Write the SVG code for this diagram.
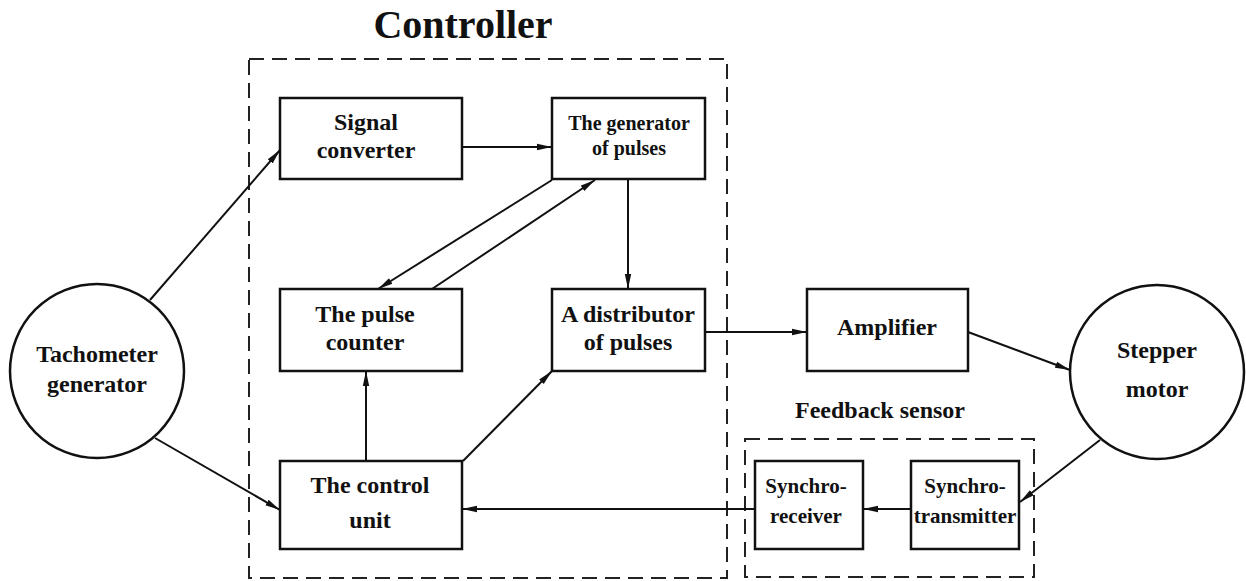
<svg xmlns="http://www.w3.org/2000/svg" width="1246" height="581" viewBox="0 0 1246 581">
<defs>
<style>
.box{fill:#fff;stroke:#111;stroke-width:2.5}
.dash{fill:none;stroke:#222;stroke-width:2;stroke-dasharray:15 8}
.ln{fill:none;stroke:#111;stroke-width:2;marker-end:url(#ah)}
text{font-family:"Liberation Serif","Times New Roman",serif;font-weight:bold;fill:#111;text-anchor:middle}
.t{font-size:24px}
.s{font-size:21px}
.g{font-size:20px}
</style>
<marker id="ah" markerUnits="userSpaceOnUse" markerWidth="16" markerHeight="8" refX="15" refY="4" orient="auto">
<path d="M0,0.8 L15,4 L0,7.2 Z" fill="#111"/>
</marker>
</defs>
<rect width="1246" height="581" fill="#fff"/>
<g id="controller">
<rect class="dash" x="249" y="59" width="478" height="519"/>
<text x="463" y="38" style="font-size:40px">Controller</text>
</g>
<g id="feedback">
<rect class="dash" x="745" y="439" width="289" height="138"/>
<text class="t" x="880" y="418">Feedback sensor</text>
</g>
<g id="tachometer">
<circle class="box" cx="97" cy="371" r="87"/>
<text class="t" x="97" y="362">Tachometer</text>
<text class="t" x="97" y="392">generator</text>
</g>
<g id="signal-converter">
<rect class="box" x="280" y="98" width="182" height="81"/>
<text class="t" x="366" y="130">Signal</text>
<text class="t" x="366" y="158">converter</text>
</g>
<g id="pulse-generator">
<rect class="box" x="552" y="98" width="153" height="81"/>
<text class="g" x="629" y="130">The generator</text>
<text class="g" x="629" y="155">of pulses</text>
</g>
<g id="pulse-counter">
<rect class="box" x="280" y="289" width="182" height="82"/>
<text class="t" x="365" y="322">The pulse</text>
<text class="t" x="365" y="350">counter</text>
</g>
<g id="distributor">
<rect class="box" x="552" y="289" width="153" height="82"/>
<text class="t" x="628" y="322">A distributor</text>
<text class="t" x="628" y="350">of pulses</text>
</g>
<g id="control-unit">
<rect class="box" x="280" y="461" width="182" height="88"/>
<text class="t" x="370" y="493">The control</text>
<text class="t" x="370" y="528">unit</text>
</g>
<g id="amplifier">
<rect class="box" x="807" y="289" width="161" height="82"/>
<text class="t" x="887" y="335">Amplifier</text>
</g>
<g id="stepper-motor">
<circle class="box" cx="1157" cy="372" r="87"/>
<text class="t" x="1157" y="358">Stepper</text>
<text class="t" x="1157" y="397">motor</text>
</g>
<g id="synchro-receiver">
<rect class="box" x="755" y="461" width="108" height="88"/>
<text class="s" x="806" y="493">Synchro-</text>
<text class="s" x="806" y="523">receiver</text>
</g>
<g id="synchro-transmitter">
<rect class="box" x="911" y="461" width="108" height="88"/>
<text class="s" x="965" y="493">Synchro-</text>
<text class="s" x="965" y="523">transmitter</text>
</g>
<g id="connectors">
<line class="ln" x1="150" y1="300" x2="280" y2="150"/>
<line class="ln" x1="155" y1="438" x2="280" y2="510"/>
<line class="ln" x1="462" y1="147" x2="552" y2="147"/>
<line class="ln" x1="552" y1="180" x2="378" y2="289"/>
<line class="ln" x1="432" y1="289" x2="595" y2="180"/>
<line class="ln" x1="628" y1="180" x2="628" y2="289"/>
<line class="ln" x1="366" y1="461" x2="366" y2="371"/>
<line class="ln" x1="463" y1="461" x2="552" y2="371"/>
<line class="ln" x1="705" y1="332" x2="807" y2="332"/>
<line class="ln" x1="968" y1="332" x2="1070" y2="370"/>
<line class="ln" x1="1100" y1="440" x2="1020" y2="502"/>
<line class="ln" x1="911" y1="509" x2="863" y2="509"/>
<line class="ln" x1="755" y1="509" x2="462" y2="509"/>
</g>
</svg>
